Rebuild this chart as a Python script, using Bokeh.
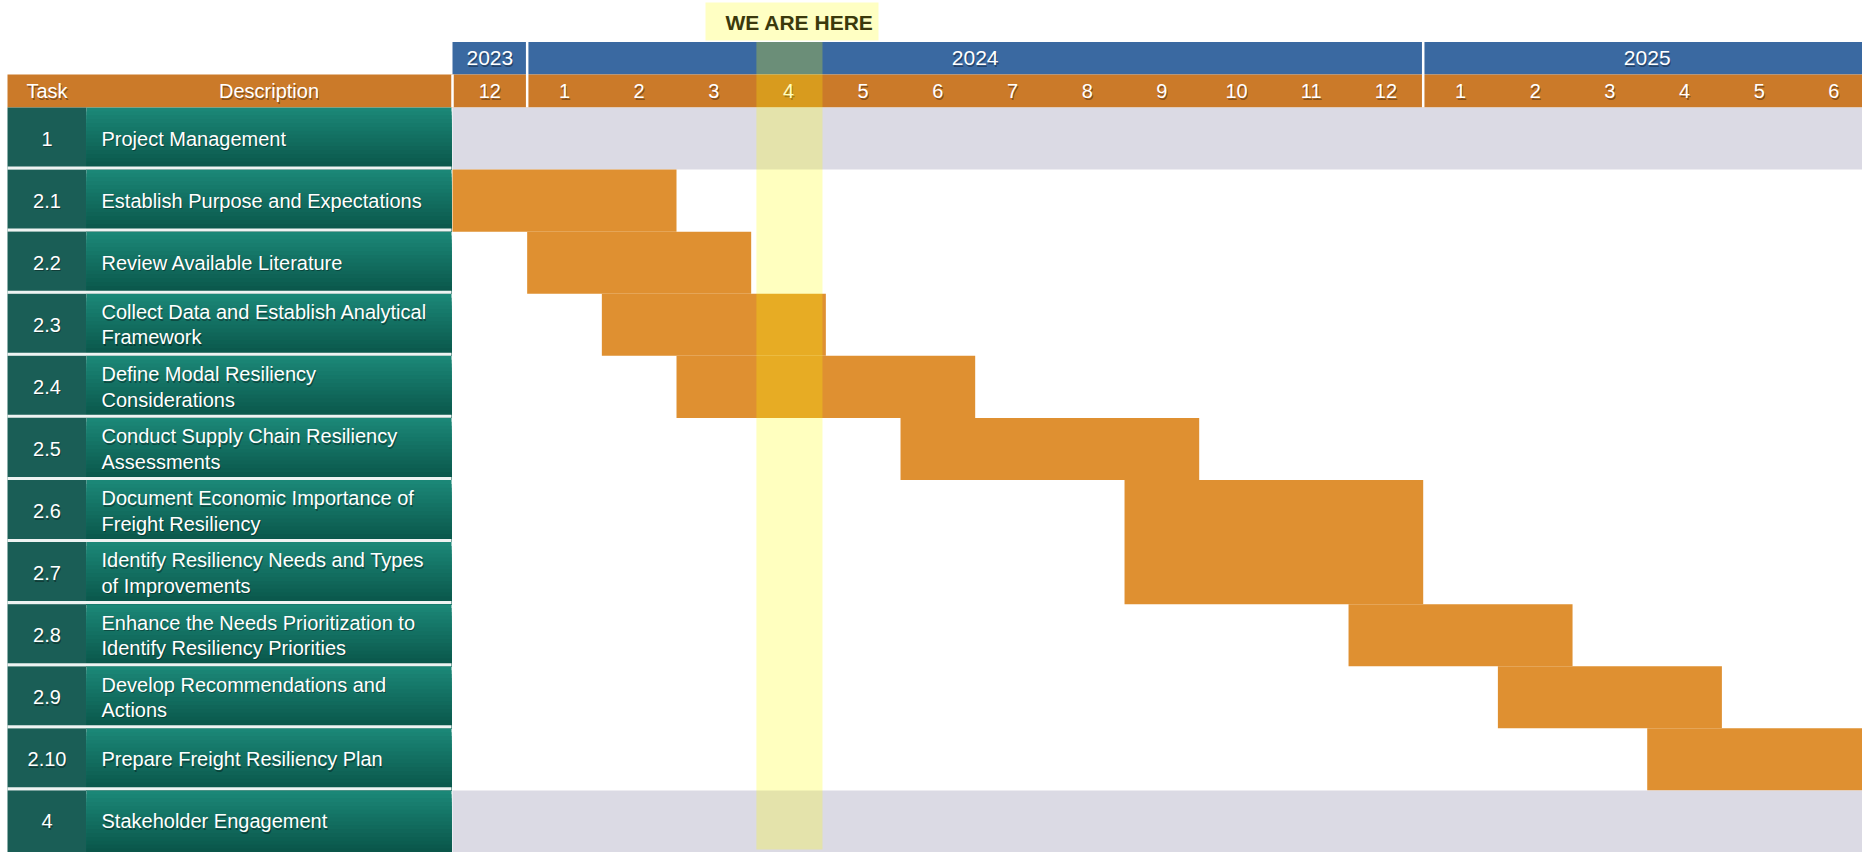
from bokeh.plotting import figure
from bokeh.models import Range1d, ColumnDataSource
from bokeh.embed import file_html
from bokeh.resources import INLINE
from bokeh.core.properties import value

# ---------------- data ----------------
task_ids = ["1", "2.1", "2.2", "2.3", "2.4", "2.5", "2.6", "2.7", "2.8", "2.9", "2.10", "4"]
descriptions = [
    "Project Management",
    "Establish Purpose and Expectations",
    "Review Available Literature",
    "Collect Data and Establish Analytical\nFramework",
    "Define Modal Resiliency\nConsiderations",
    "Conduct Supply Chain Resiliency\nAssessments",
    "Document Economic Importance of\nFreight Resiliency",
    "Identify Resiliency Needs and Types\nof Improvements",
    "Enhance the Needs Prioritization to\nIdentify Resiliency Priorities",
    "Develop Recommendations and\nActions",
    "Prepare Freight Resiliency Plan",
    "Stakeholder Engagement",
]
task_kind = ["ongoing", "task", "task", "task", "task", "task", "task", "task", "task", "task", "task", "ongoing"]
task_start = ["2023-12", "2023-12", "2024-01", "2024-02", "2024-03", "2024-06", "2024-09", "2024-09",
              "2024-12", "2025-02", "2025-04", "2023-12"]
task_end = ["2025-06", "2024-02", "2024-03", "2024-04", "2024-06", "2024-09", "2024-12", "2024-12",
            "2025-02", "2025-04", "2025-06", "2025-06"]

timeline_start = "2023-12"
timeline_end = "2025-06"
current_month = "2024-04"
years = ["2023", "2024", "2025"]
month_labels = ["12", "1", "2", "3", "4", "5", "6", "7", "8", "9", "10", "11", "12",
                "1", "2", "3", "4", "5", "6"]
header_labels = ["Task", "Description"]
marker_label = "WE ARE HERE"


def midx(s):
    y, m = s.split("-")
    ty, tm = timeline_start.split("-")
    return (int(y) - int(ty)) * 12 + int(m) - int(tm)


def year_of(i):
    ty, tm = timeline_start.split("-")
    return int(ty) + (i + int(tm) - 1) // 12


n_months = midx(timeline_end) + 1
n_rows = len(task_ids)

# ---------------- layout constants (pixels -> units) ----------------
W, H = 1862, 852
X0 = 452.0                      # px where the timeline starts
PXX = 74.67                     # px per month (last month is cut by the page edge)
Y0 = 107.0                      # px where task rows start
PXY = (H - Y0) / n_rows         # px per row


def ux(px):
    return (px - X0) / PXX


def uy(py):
    return (py - Y0) / PXY


p = figure(width=W, height=H, output_backend="svg", toolbar_location=None,
           x_range=Range1d(ux(0), ux(W)), y_range=Range1d(uy(H), uy(0)),
           x_axis_location=None, y_axis_location=None, min_border=0)
p.grid.visible = False
p.outline_line_color = None
p.background_fill_color = "white"
p.border_fill_color = "white"

FONT = value("Liberation Sans")
year_top, month_top, rows_top = uy(41.5), uy(74), 0.0
tcol_l, tcol_r, dcol_r = ux(7), ux(86), ux(451)
SHADOW = dict(text_color="#000000", text_alpha=0.35, x_offset=1, y_offset=1.5)

# ---------- header rows ----------
p.quad(left=[0], right=[n_months], top=[year_top], bottom=[month_top],
       fill_color="#3A69A1", line_color=None)
p.quad(left=[tcol_l], right=[n_months], top=[month_top], bottom=[rows_top],
       fill_color="#CB7A29", line_color=None)

# year labels
yr_first, yr_last = [], []
for yv in years:
    ms = [i for i in range(n_months) if year_of(i) == int(yv)]
    yr_first.append(min(ms))
    yr_last.append(max(ms) + 1)
yr_x = [(a + b) / 2 for a, b in zip(yr_first, yr_last)]
yr_y = [(year_top + month_top) / 2] * len(years)
p.text(x=yr_x, y=yr_y, text=years, text_font=FONT, text_font_size="21px",
       text_align="center", text_baseline="middle", **SHADOW)
p.text(x=yr_x, y=yr_y, text=years, text_color="white", text_font=FONT, text_font_size="21px",
       text_align="center", text_baseline="middle")

# month labels
mx = [i + 0.5 for i in range(n_months)]
my = [(month_top + rows_top) / 2] * n_months
p.text(x=mx, y=my, text=month_labels, text_font=FONT, text_font_size="20px",
       text_align="center", text_baseline="middle", **SHADOW)
p.text(x=mx, y=my, text=month_labels, text_color="white", text_font=FONT, text_font_size="20px",
       text_align="center", text_baseline="middle")

# table header labels
hx = [(tcol_l + tcol_r) / 2, (tcol_r + dcol_r) / 2]
hy = [(month_top + rows_top) / 2] * 2
p.text(x=hx, y=hy, text=header_labels, text_font=FONT, text_font_size="20px",
       text_align="center", text_baseline="middle", **SHADOW)
p.text(x=hx, y=hy, text=header_labels, text_color="white", text_font=FONT, text_font_size="20px",
       text_align="center", text_baseline="middle")

# vertical separators in header
p.segment(x0=[0], x1=[0], y0=[month_top], y1=[rows_top], line_color="white", line_width=2.5)
p.segment(x0=yr_first[1:], x1=yr_first[1:], y0=[year_top] * (len(years) - 1),
          y1=[rows_top] * (len(years) - 1), line_color="white", line_width=2.5)

# ---------- table cells ----------
rows = list(range(n_rows))
p.quad(left=[tcol_l] * n_rows, right=[tcol_r] * n_rows, top=rows, bottom=[r + 1 for r in rows],
       fill_color="#1A5E56", line_color=None)

# gradient description cells (stacked strips, each reaching the cell bottom -> no seams)
N = 16
top_c = (27, 135, 119)
bot_c = (10, 86, 74)
gl, gr, gt, gb, gc = [], [], [], [], []
for r in rows:
    for k in range(N):
        t = k / (N - 1)
        c = tuple(int(round(top_c[j] + (bot_c[j] - top_c[j]) * t)) for j in range(3))
        gl.append(tcol_r)
        gr.append(dcol_r)
        gt.append(r + k / N)
        gb.append(r + 1)
        gc.append("#%02x%02x%02x" % c)
p.quad(left=gl, right=gr, top=gt, bottom=gb, fill_color=gc, line_color=None)

# separators between table rows
p.segment(x0=[tcol_l] * (n_rows - 1), x1=[dcol_r] * (n_rows - 1),
          y0=[r - 0.025 for r in range(1, n_rows)], y1=[r - 0.025 for r in range(1, n_rows)],
          line_color="#EEF3F2", line_width=3)

# task ids and descriptions
tx = [(tcol_l + tcol_r) / 2] * n_rows
ty = [r + 0.5 for r in rows]
p.text(x=tx, y=ty, text=task_ids, text_font=FONT, text_font_size="20px",
       text_align="center", text_baseline="middle", **SHADOW)
p.text(x=tx, y=ty, text=task_ids, text_color="white", text_font=FONT, text_font_size="20px",
       text_align="center", text_baseline="middle")
dx = [ux(101)] * n_rows
p.text(x=dx, y=ty, text=descriptions, text_font=FONT, text_font_size="20px",
       text_align="left", text_baseline="middle", text_line_height=1.15, **SHADOW)
p.text(x=dx, y=ty, text=descriptions, text_color="white", text_font=FONT, text_font_size="20px",
       text_align="left", text_baseline="middle", text_line_height=1.15)

# ---------- gantt bars ----------
src = ColumnDataSource(dict(
    left=[midx(s) for s in task_start],
    right=[midx(e) + 1 for e in task_end],
    top=rows,
    bottom=[r + 1 for r in rows],
    color=["#DBDAE4" if k == "ongoing" else "#DF9031" for k in task_kind],
))
p.quad(left="left", right="right", top="top", bottom="bottom", fill_color="color",
       line_color=None, source=src)

# ---------- current month marker ----------
cm = midx(current_month)
p.quad(left=[cm + 0.07], right=[cm + 0.955], top=[year_top], bottom=[uy(849)],
       fill_color="#FFFF00", fill_alpha=0.25, line_color=None)
p.quad(left=[ux(705)], right=[ux(878)], top=[uy(2)], bottom=[uy(40)],
       fill_color="#FFFFC3", line_color=None)
p.text(x=[ux(799)], y=[uy(22)], text=[marker_label], text_color="#3B390C",
       text_font=FONT, text_font_size="21px", text_font_style="bold",
       text_align="center", text_baseline="middle")

open("out.html", "w").write(file_html(p, INLINE))
